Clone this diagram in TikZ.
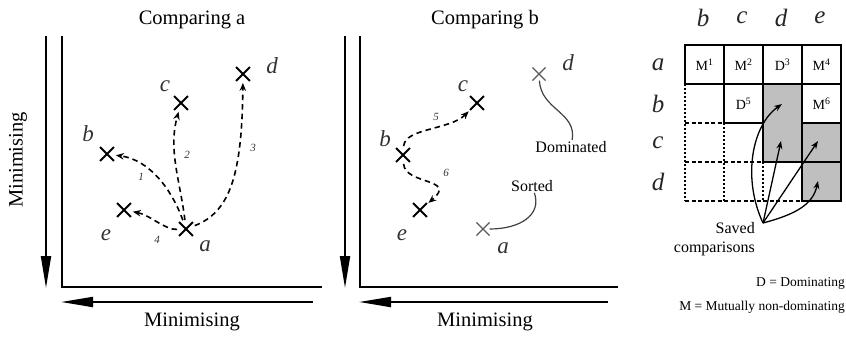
\documentclass[tikz,border=0pt]{standalone}
\usepackage{fontspec}
\setmainfont{Liberation Serif}
\usetikzlibrary{arrows.meta,positioning,shapes.misc}
\newcommand{\sz}[1]{\fontsize{#1}{1.15\dimexpr #1pt\relax}\selectfont}

\begin{document}
\begin{tikzpicture}[x=1pt, y=-1pt,
  ttl/.style  ={font=\sz{20.5}},
  lett/.style ={font=\sz{23}\itshape, text=black!80, inner sep=0pt},
  hdr/.style  ={lett, font=\sz{25}\itshape, text=black!85},
  pt/.style   ={draw, cross out, minimum size=12pt, inner sep=0pt, line width=1.8pt},
  ptg/.style  ={pt, line width=1.1pt, draw=black!65},
  num/.style  ={font=\sz{11}\itshape, text=black!80, inner sep=1pt},
  cmp/.style  ={-{Stealth[length=8pt,width=6.5pt]}, dash pattern=on 5.5pt off 4pt,
                line width=1.6pt, shorten >=2pt, shorten <=2pt},
  ax/.style   ={line width=2.4pt},
  dir/.style  ={-{Triangle[length=32pt,width=10pt]}, line width=2pt},
  note/.style ={font=\sz{16}, inner sep=1pt},
  lnk/.style  ={line width=1.2pt, black!75},
  cell/.style ={draw, font=\sz{14}, minimum size=39pt, inner sep=0pt, line width=1.5pt},
  sav/.style  ={-{Stealth[length=8pt,width=6pt]}, line width=1.3pt},
  key/.style  ={font=\sz{13.5}, anchor=east, inner sep=0pt}]

\useasboundingbox (0,0) rectangle (846,338);

% comparing a
\node[ttl] (ta) at (192,20) {Comparing a};
\node[ttl] (xa) at (192,322) {Minimising};
\node[ttl, rotate=90] (ya) at (18,160) {Minimising};
\draw[ax] (62,36) -- (62,287) -- (322,287);
\draw[dir] (46,36) -- (46,288);
\draw[dir] (313,302) -- (61,302);

\node[pt] (a1) at (186,229) {};
\node[pt] (b1) at (107,154) {};
\node[pt] (c1) at (181,103) {};
\node[pt] (d1) at (243,74) {};
\node[pt] (e1) at (124,210) {};
\node[lett] (la1) at (205,246) {a};
\node[lett] (lb1) at (88,134) {b};
\node[lett] (lc1) at (165,86) {c};
\node[lett] (ld1) at (272,66) {d};
\node[lett] (le1) at (106,235) {e};

\draw[cmp] (a1) .. controls (172,190) and (150,160) .. (b1);
\draw[cmp] (a1) .. controls (180,180) and (168,150) .. (c1);
\draw[cmp] (a1) .. controls (230,212) and (242,175) .. (d1);
\draw[cmp] (a1) .. controls (165,230) and (150,215) .. (e1);
\node[num] (n1) at (141,177) {1};
\node[num] (n2) at (187,155) {2};
\node[num] (n3) at (253,148) {3};
\node[num] (n4) at (157,240) {4};

% comparing b
\node[ttl] (tb) at (485,20) {Comparing b};
\node[ttl] (xb) at (485,322) {Minimising};
\draw[ax] (360,36) -- (360,287) -- (618,287);
\draw[dir] (345,36) -- (345,288);
\draw[dir] (608,302) -- (359,302);

\node[ptg] (a2) at (483,229) {};
\node[pt]  (b2) at (403,155) {};
\node[pt]  (c2) at (477,103) {};
\node[ptg] (d2) at (539,74) {};
\node[pt]  (e2) at (420,210) {};
\node[lett] (la2) at (503,248) {a};
\node[lett] (lb2) at (385,139) {b};
\node[lett] (lc2) at (463,86) {c};
\node[lett] (ld2) at (568,63) {d};
\node[lett] (le2) at (402,235) {e};

\draw[cmp] (b2) .. controls (405,128) and (450,130) .. (c2);
\draw[cmp] (b2) .. controls (405,185) and (458,178) .. (e2);
\node[num] (n5) at (436,117) {5};
\node[num] (n6) at (446,173) {6};

\node[note] (dom) at (571,147) {Dominated};
\node[note] (srt) at (532,186) {Sorted};
\draw[lnk] (d2) .. controls (541,110) and (577,112) .. (dom);
\draw[lnk] (a2) .. controls (520,229) and (542,215) .. (srt);

% matrix
\foreach \l [count=\i from 0] in {b,c,d,e}
  \node[hdr] (h\l) at ({703+39*\i},18) {\l};
\foreach \l [count=\j from 0] in {a,b,c,d}
  \node[hdr] (r\l) at (658,{64.5+39*\j}) {\l};

\node[cell, fill=black!25, minimum height=78pt] (gbd) at (782.5,123) {};
\node[cell, fill=black!25] (gce) at (821.5,142.5) {};
\node[cell, fill=black!25] (gde) at (821.5,181.5) {};
\foreach \t [count=\i from 0] in {M\textsuperscript{1},M\textsuperscript{2},D\textsuperscript{3},M\textsuperscript{4}}
  \node[cell] (ma\i) at ({704.5+39*\i},64.5) {\t};
\node[cell] (mbc) at (743.5,103.5) {D\textsuperscript{5}};
\node[cell] (mbe) at (821.5,103.5) {M\textsuperscript{6}};

\draw[line width=1.5pt, dash pattern=on 4pt off 2.5pt]
  (685,123) -- (724,123) (685,162) -- (763,162) (685,201) -- (802,201);
\draw[line width=1.5pt, dash pattern=on 2pt off 2pt]
  (685,84) -- (685,201) (724,123) -- (724,201) (763,162) -- (763,201);

\node[note, align=right, anchor=east] (saved) at (756,239) {Saved\\comparisons};
\coordinate (sv) at (763,223);
\coordinate (t1) at (782,104);
\coordinate (t2) at (781,141);
\coordinate (t3) at (818,141);
\coordinate (t4) at (818,181);
\draw[sav] (sv) .. controls (742,178) and (752,125) .. (t1);
\draw[sav] (sv) -- (t2);
\draw[sav] (sv) -- (t3);
\draw[sav] (sv) .. controls (797,214) and (813,204) .. (t4);

\node[key] (kd) at (845,283) {D = Dominating};
\node[key] (km) at (845,307) {M = Mutually non-dominating};
\end{tikzpicture}
\end{document}
